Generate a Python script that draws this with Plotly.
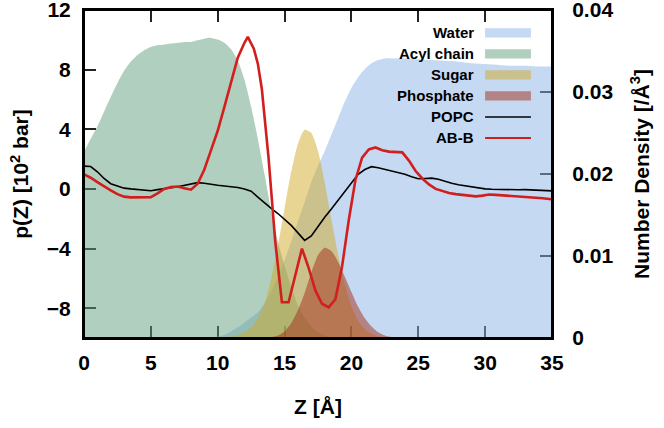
import plotly.graph_objects as go

# ---------------- data ----------------
z_dens = [0, 0.5, 1, 1.5, 2, 2.5, 3, 3.5, 4, 4.5, 5, 5.5, 6, 6.5, 7, 7.5, 8, 8.5, 9, 9.5,
          10, 10.5, 11, 11.5, 12, 12.5, 13, 13.5, 14, 14.5, 15, 15.5, 16, 16.5, 17, 17.5,
          18, 18.5, 19, 19.5, 20, 20.5, 21, 21.5, 22, 22.5, 23, 23.5, 24, 25, 26, 27, 28,
          29, 30, 31, 32, 33, 34, 35]

water = [0, 0, 0, 0, 0, 0, 0, 0, 0, 0, 0, 0, 0, 0, 0, 0, 0, 0, 0, 0,
         0.0002, 0.0004, 0.0008, 0.0013, 0.0019, 0.0025, 0.0031, 0.0042, 0.0057, 0.0075,
         0.0095, 0.0118, 0.0142, 0.0166, 0.0190, 0.0210,
         0.0228, 0.0248, 0.0268, 0.0288, 0.0305, 0.0318, 0.0328, 0.0335, 0.0339, 0.0341,
         0.0341, 0.0341, 0.0341, 0.0340, 0.0339, 0.0338, 0.0337,
         0.0335, 0.0334, 0.0333, 0.0332, 0.0332, 0.0331, 0.0331]

acyl = [0.0227, 0.0243, 0.0258, 0.0276, 0.0294, 0.0311, 0.0326, 0.0337, 0.0345, 0.0351,
        0.0355, 0.0357, 0.0358, 0.0359, 0.0360, 0.0361, 0.0361, 0.0363, 0.0365, 0.0366,
        0.0364, 0.0360, 0.0352, 0.0338, 0.0315, 0.0282, 0.0243, 0.0200, 0.0155, 0.0118,
        0.0088, 0.0062, 0.0040, 0.0025, 0.0014, 0.0007,
        0.0003, 0.0001, 0, 0, 0, 0, 0, 0, 0, 0, 0, 0, 0, 0, 0, 0, 0, 0, 0, 0, 0, 0, 0, 0]

sugar = [0, 0, 0, 0, 0, 0, 0, 0, 0, 0, 0, 0, 0, 0, 0, 0, 0, 0, 0, 0,
         0, 0, 0.0002, 0.0004, 0.0007, 0.0013, 0.0024, 0.0042, 0.0072, 0.0112,
         0.0158, 0.0203, 0.0237, 0.0254, 0.0250, 0.0228,
         0.0190, 0.0145, 0.0102, 0.0066, 0.0039, 0.0021, 0.0011, 0.0005, 0.0002, 0,
         0, 0, 0, 0, 0, 0, 0, 0, 0, 0, 0, 0, 0, 0]

phosphate = [0, 0, 0, 0, 0, 0, 0, 0, 0, 0, 0, 0, 0, 0, 0, 0, 0, 0, 0, 0,
             0, 0, 0, 0, 0, 0, 0, 0, 0.0001, 0.0003,
             0.0008, 0.0018, 0.0034, 0.0055, 0.0080, 0.0101,
             0.0110, 0.0106, 0.0093, 0.0075, 0.0056, 0.0038, 0.0024, 0.0014, 0.0007, 0.0003,
             0.0001, 0, 0, 0, 0, 0, 0, 0, 0, 0, 0, 0, 0, 0]

z_popc = [0, 0.5, 1, 1.5, 2, 2.5, 3, 3.5, 4, 4.5, 5, 5.5, 6, 6.5, 7, 7.5, 8, 8.5, 9, 9.5,
          10, 10.5, 11, 11.5, 12, 12.5, 13, 13.5, 14, 14.5, 15, 15.5, 16, 16.5, 17, 17.5,
          18, 18.5, 19, 19.5, 20, 20.5, 21, 21.5, 22, 22.5, 23, 23.5, 24, 24.5, 25, 25.5,
          26, 26.5, 27, 27.5, 28, 28.5, 29, 29.5, 30, 30.5, 31, 31.5, 32, 32.5, 33, 33.5,
          34, 34.5, 35]
popc = [1.53, 1.5, 1.15, 0.7, 0.35, 0.18, 0.05, 0.0, -0.05, -0.1, -0.12, -0.05, 0.0, 0.08,
        0.15, 0.25, 0.35, 0.42, 0.38, 0.3, 0.25, 0.2, 0.15, 0.1, 0.0, -0.15, -0.55, -0.95,
        -1.3, -1.65, -2.05, -2.45, -2.95, -3.45, -3.15, -2.5, -1.9, -1.35, -0.75, -0.15,
        0.42, 0.98, 1.3, 1.49, 1.42, 1.32, 1.22, 1.1, 0.98, 0.82, 0.68, 0.7, 0.72, 0.65,
        0.5, 0.38, 0.28, 0.2, 0.12, 0.06, 0.0, -0.02, -0.03, -0.05, -0.08, -0.06, -0.05,
        -0.08, -0.1, -0.12, -0.13]

z_abb = [0, 0.5, 1, 1.5, 2, 2.5, 3, 3.5, 4, 4.5, 5, 5.5, 6, 6.5, 7, 7.5, 8, 8.5, 9, 9.5,
         10, 10.5, 11, 11.5, 12, 12.25, 12.7, 13, 13.3, 13.8, 14.3, 14.8, 15.3, 15.8, 16.3,
         16.8, 17.3, 17.8, 18.3, 18.8, 19.3, 19.8, 20.3, 20.8, 21.3, 21.8, 22.3, 22.8, 23.3,
         23.8, 24.3, 24.8, 25.3, 25.8, 26.3, 26.8, 27.3, 27.8, 28.3, 28.8, 29.3, 29.8, 30.3,
         30.8, 31.3, 31.8, 32.3, 32.8, 33.3, 33.8, 34.3, 34.8, 35]
abb = [0.98, 0.75, 0.45, 0.15, -0.1, -0.35, -0.52, -0.57, -0.58, -0.58, -0.55, -0.3, 0.0,
       0.12, 0.16, 0.05, -0.05, 0.35, 1.3, 2.6, 3.9, 5.5, 7.1, 8.8, 9.8, 10.2, 9.4, 8.4,
       6.7, 2.1, -3.5, -7.6, -7.6, -5.7, -4.0, -5.3, -6.8, -7.7, -7.95, -7.4, -5.2, -2.1,
       0.6, 2.1, 2.65, 2.78, 2.6, 2.5, 2.48, 2.45, 1.9, 1.2, 0.7, 0.3, 0.0, -0.15, -0.28,
       -0.35, -0.4, -0.45, -0.5, -0.45, -0.38, -0.4, -0.43, -0.45, -0.47, -0.52, -0.56,
       -0.6, -0.63, -0.68, -0.7]

x_ticks = [0, 5, 10, 15, 20, 25, 30, 35]
p_ticks = [-8, -4, 0, 4, 8, 12]
d_ticks = [0, 0.01, 0.02, 0.03, 0.04]
d_labels = ["0", "0.01", "0.02", "0.03", "0.04"]

# ---------------- styles ----------------
FONT = "Liberation Sans, Arial, Helvetica, sans-serif"
C_WATER = "rgba(140,180,230,0.5)"
C_ACYL = "rgba(100,160,125,0.5)"
C_SUGAR = "rgba(210,170,40,0.5)"
C_PHOS = "rgba(163,45,26,0.5)"
C_POPC = "black"
C_ABB = "#d21e1e"

fig = go.Figure()
# densities on primary y (drawn first, right side)
for name, vals, col in [("Water", water, C_WATER), ("Acyl chain", acyl, C_ACYL),
                        ("Sugar", sugar, C_SUGAR), ("Phosphate", phosphate, C_PHOS)]:
    fig.add_trace(go.Scatter(x=z_dens, y=vals, name=name, yaxis="y", mode="lines",
                             line=dict(width=0, shape="spline", smoothing=0.6, color=col),
                             fill="tozeroy", fillcolor=col, showlegend=False))

# pressure profiles on overlaying y2 (drawn on top, left side)
fig.add_trace(go.Scatter(x=z_popc, y=popc, name="POPC", mode="lines", yaxis="y2",
                         line=dict(color=C_POPC, width=1.6), showlegend=False))
fig.add_trace(go.Scatter(x=z_abb, y=abb, name="AB-B", mode="lines", yaxis="y2",
                         line=dict(color=C_ABB, width=2.6), showlegend=False))

# custom gnuplot-style legend (text left, sample right)
legend_items = [("Water", "box", C_WATER), ("Acyl chain", "box", C_ACYL),
                ("Sugar", "box", C_SUGAR), ("Phosphate", "box", C_PHOS),
                ("POPC", "line", C_POPC), ("AB-B", "line", C_ABB)]
ly0, ldy = 0.930, 0.064
for i, (lab, kind, col) in enumerate(legend_items):
    yy = ly0 - i * ldy
    fig.add_annotation(xref="paper", yref="paper", x=0.837, y=yy, text=lab, showarrow=False,
                       xanchor="right", yanchor="middle",
                       font=dict(family=FONT, size=15, color="black", weight="bold"))
    if kind == "box":
        fig.add_shape(type="rect", xref="paper", yref="paper", x0=0.857, x1=0.955,
                      y0=yy - 0.014, y1=yy + 0.014, fillcolor=col, line=dict(width=0),
                      layer="above")
    else:
        fig.add_shape(type="line", xref="paper", yref="paper", x0=0.857, x1=0.955,
                      y0=yy, y1=yy, line=dict(color=col, width=2 if col == C_ABB else 1.5),
                      layer="above")

# frame on top
fig.add_shape(type="rect", xref="paper", yref="paper", x0=0, x1=1, y0=0, y1=1,
              line=dict(color="black", width=2), layer="above")

tickfont = dict(family=FONT, size=21, color="black", weight="bold")
titlefont = dict(family=FONT, size=21, color="black", weight="bold")

fig.update_layout(
    width=664, height=428,
    margin=dict(l=84, r=112, t=10, b=90, autoexpand=False),
    paper_bgcolor="white", plot_bgcolor="white",
    xaxis=dict(range=[0, 35], tickvals=x_ticks, ticks="inside", ticklen=12, tickwidth=2,
               tickcolor="#222", showgrid=False, zeroline=False, mirror="ticks",
               showline=True, linecolor="black", linewidth=2, layer="below traces",
               tickfont=tickfont, ticklabelstandoff=5, automargin=False,
               ticklabeloverflow="allow",
               title=dict(text="Z [Å]", font=titlefont, standoff=26)),
    yaxis=dict(range=[0, 0.04], tickvals=d_ticks, ticktext=d_labels, side="right",
               ticks="inside", ticklen=12, tickwidth=2, tickcolor="#222",
               showgrid=False, zeroline=False, showline=True, linecolor="black",
               linewidth=2, layer="below traces", tickfont=tickfont, ticklabelstandoff=14,
               automargin=False, ticklabeloverflow="allow",
               title=dict(text="Number Density [/Å<sup>3</sup>]", font=titlefont,
                          standoff=22)),
    yaxis2=dict(range=[-10, 12], tickvals=p_ticks, ticks="inside", ticklen=12, tickwidth=2,
                tickcolor="#222", showgrid=False, zeroline=False, overlaying="y",
                side="left", showline=True, linecolor="black", linewidth=2,
                layer="below traces", tickfont=tickfont, ticklabelstandoff=7,
                automargin=False, ticklabeloverflow="allow",
                title=dict(text="p(Z) [10<sup>2</sup> bar]", font=titlefont, standoff=12)),
)

fig.write_html("out.html", post_script="document.body.style.margin='0';",
               config={"displayModeBar": False})
